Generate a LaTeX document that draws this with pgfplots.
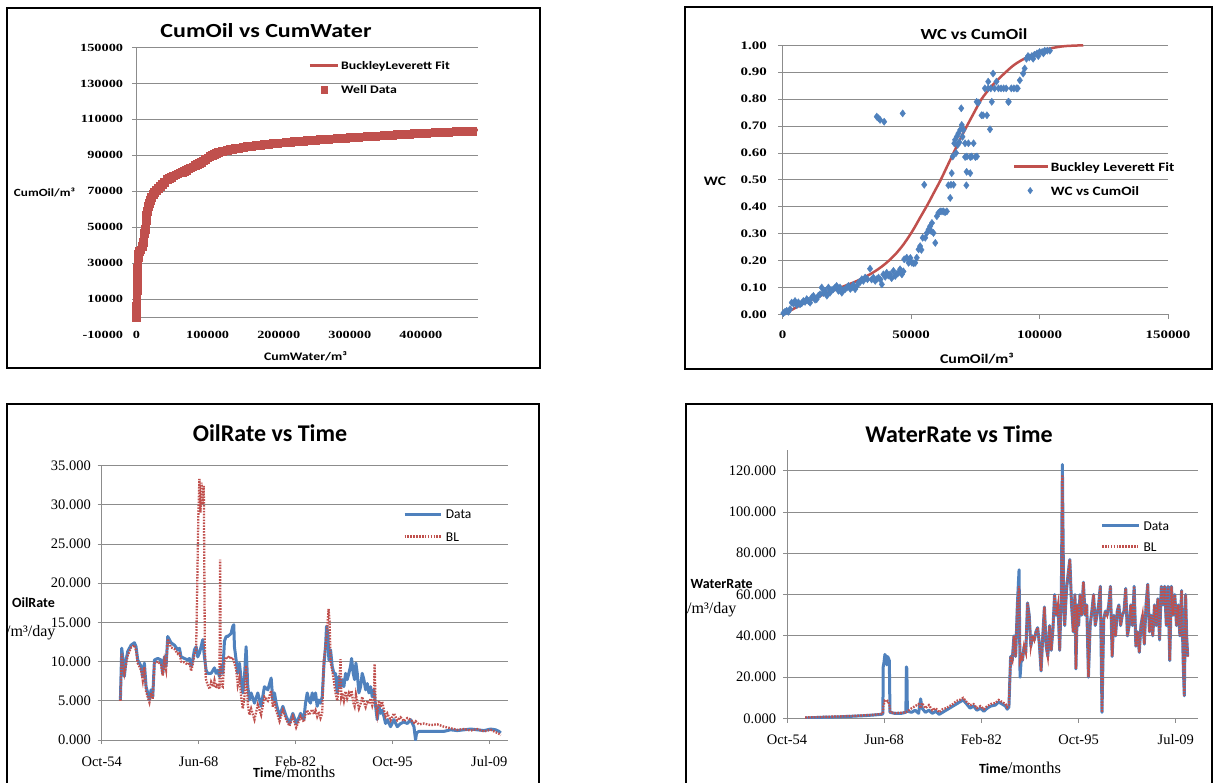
\documentclass[border=0pt]{standalone}
\usepackage{pgfplots}
\pgfplotsset{compat=1.18}
\usepackage{pgfplotstable}
\usepackage{fontspec}
\setmainfont{Liberation Serif}
\newfontfamily\fcal{Carlito}
\newfontfamily\fcalw{Carlito}[FakeStretch=1.2]
\newfontfamily\fserw{Liberation Serif}[FakeStretch=1.3]
\definecolor{xred}{HTML}{C0504D}
\definecolor{xblue}{HTML}{4F81BD}
\definecolor{xgrid}{HTML}{8C8C8C}

% ---------------- Panel 1: CumOil vs CumWater ----------------
\pgfplotstableread{
x y
0 0
0 3000
0 6000
200 9000
400 12000
600 15000
800 18000
1000 21000
1200 24000
1400 27000
1600 30000
1900 33000
2500 35000
4000 36500
6000 37500
8000 39300
9000 41500
10000 44000
11000 46500
12000 49000
12800 51500
13500 54000
14200 56500
15000 59000
16000 61500
17300 63500
19000 65200
21000 66800
23000 68300
25000 69600
27500 70600
30000 71700
33000 72700
36000 73900
39000 75100
43000 76600
46000 77300
49000 78000
52000 78600
55000 79200
58000 79800
61000 80300
64000 80800
67000 81300
70000 81900
73000 82500
76000 83100
79000 83700
82000 84300
85000 84900
88000 85500
91000 86200
94000 87000
97000 87800
100000 88700
103000 89400
106000 90000
109000 90600
112000 91100
115000 91600
118000 92000
121000 92300
124000 92600
127000 92900
131000 93200
135000 93500
139000 93800
143000 94000
146000 94200
150000 94500
156000 94850
162000 95200
168000 95500
174000 95800
180000 96100
186000 96350
192000 96600
198000 96800
204000 97050
210000 97250
216000 97450
222000 97650
228000 97850
234000 98050
240000 98250
246000 98400
252000 98600
258000 98750
264000 98900
270000 99100
276000 99250
282000 99400
288000 99550
294000 99700
300000 99900
306000 100050
312000 100200
318000 100350
324000 100500
330000 100650
336000 100800
342000 100950
348000 101100
354000 101250
360000 101400
366000 101550
372000 101700
378000 101850
384000 101950
390000 102100
396000 102200
402000 102350
408000 102500
414000 102600
420000 102750
426000 102850
432000 102950
438000 103050
444000 103150
450000 103250
456000 103350
462000 103450
468000 103550
472000 103600
}\welldata

\pgfplotstableread{
x y
0 0
0 17000
1900 33000
8000 39300
12600 50500
17300 63500
24300 69200
33700 72900
43000 76600
58000 79800
73000 82500
89800 85900
100000 88700
113200 91300
141200 93900
200000 96900
300000 99900
400000 102300
480000 104100
}\blfit

% ---------------- Panel 2: WC vs CumOil ----------------
\pgfplotstableread{
x y
260 0.005
900 0.01
1560 0.014
2200 0.01
2860 0.02
3500 0.044
4200 0.04
4800 0.05
5500 0.035
6100 0.045
6750 0.038
7400 0.042
8050 0.05
8700 0.047
9350 0.057
10000 0.05
10650 0.044
11300 0.063
11950 0.069
12600 0.055
13250 0.057
13900 0.07
14550 0.075
15200 0.1
15800 0.08
16500 0.088
17200 0.07
17800 0.1
18400 0.081
19000 0.09
19700 0.094
20400 0.1
21000 0.106
21700 0.088
22300 0.1
23000 0.081
23600 0.09
24300 0.094
25000 0.1
25600 0.106
26300 0.095
26900 0.1
27500 0.11
28200 0.094
28800 0.105
29500 0.118
30100 0.12
30800 0.131
31400 0.125
32100 0.137
33000 0.131
34000 0.17
34600 0.13
35300 0.137
36000 0.125
36600 0.131
37300 0.137
38000 0.13
38600 0.112
39200 0.149
39900 0.14
40500 0.155
41100 0.145
41800 0.149
42400 0.135
43100 0.162
43800 0.143
44400 0.15
45100 0.155
45700 0.168
46400 0.149
47000 0.16
47300 0.205
48300 0.211
49000 0.192
49700 0.21
50300 0.192
51000 0.19
51600 0.192
52200 0.211
52900 0.242
53500 0.254
54000 0.24
54500 0.285
55100 0.482
55500 0.285
56100 0.303
56800 0.316
57400 0.328
57800 0.31
58100 0.34
58700 0.303
59400 0.266
60000 0.365
60600 0.377
61300 0.383
62000 0.383
62600 0.383
63200 0.38
63900 0.383
64500 0.48
65200 0.433
65500 0.482
65800 0.525
66200 0.587
66500 0.482
66800 0.636
67100 0.649
67500 0.6
67800 0.661
68100 0.63
68400 0.673
68800 0.64
69100 0.686
69500 0.766
69700 0.704
70000 0.66
70400 0.686
71000 0.636
71000 0.585
71500 0.48
71600 0.53
71700 0.587
72300 0.636
73000 0.525
73000 0.585
73600 0.587
74300 0.636
75000 0.585
75500 0.79
75600 0.587
76200 0.787
77400 0.74
78000 0.74
78700 0.84
79500 0.74
80000 0.84
80000 0.865
80700 0.688
81000 0.84
81400 0.79
81900 0.895
82500 0.84
83200 0.865
84000 0.84
85000 0.84
86000 0.84
87000 0.84
87800 0.79
88000 0.79
89000 0.84
90000 0.84
91000 0.84
91500 0.84
92300 0.87
93600 0.895
94200 0.914
94900 0.95
95500 0.96
96000 0.955
97000 0.96
97500 0.95
98000 0.965
99000 0.97
99500 0.96
100000 0.975
101000 0.975
101500 0.97
102000 0.98
103000 0.98
104000 0.98
36600 0.735
37300 0.729
37900 0.723
39500 0.716
46700 0.747
}\wcdata

\pgfplotstableread{
x y
0 0
5000 0.025
10000 0.05
16000 0.075
22500 0.10
29000 0.125
35000 0.155
39500 0.185
43500 0.22
47000 0.26
50500 0.31
53500 0.36
56500 0.41
59000 0.455
61500 0.50
64000 0.55
66500 0.60
69000 0.65
71700 0.70
74500 0.75
77400 0.80
81500 0.85
86800 0.90
90500 0.93
95000 0.955
100000 0.977
105000 0.99
110000 0.997
117000 1.0
}\wcfit

% ---------------- Panel 3: OilRate vs Time ----------------
\pgfplotstableread{
t v
1957.39 5.1
1957.58 11.7
1957.72 10.6
1957.95 8.1
1958.19 10.2
1958.43 11.3
1958.90 12.1
1959.37 12.4
1959.60 11.9
1959.84 10.2
1960.31 9.4
1960.55 8.1
1960.78 9.8
1961.02 6.8
1961.25 6.0
1961.49 5.1
1961.72 6.4
1961.96 5.5
1962.20 10.2
1962.67 10.4
1963.14 10.2
1963.37 8.5
1963.61 10.6
1963.84 9.4
1964.08 13.2
1964.55 12.4
1965.02 12.1
1965.49 11.5
1965.73 11.7
1965.96 10.6
1966.44 10.4
1966.91 10.2
1967.14 10.4
1967.38 9.4
1967.61 10.2
1967.85 11.5
1968.09 11.9
1968.32 10.6
1968.56 11.1
1968.79 11.9
1969.03 12.8
1969.26 10.6
1969.50 8.9
1969.73 8.5
1970.21 8.5
1970.68 9.2
1970.91 8.5
1971.15 8.9
1971.38 8.1
1971.62 9.4
1971.85 8.5
1972.09 12.6
1972.33 13.2
1972.56 13.2
1972.80 13.4
1973.03 13.6
1973.27 14.5
1973.41 14.7
1973.50 11.9
1973.74 10.2
1973.97 8.5
1974.21 9.8
1974.45 7.7
1974.68 6.0
1974.92 8.1
1975.15 11.9
1975.39 6.8
1975.62 5.1
1975.86 6.0
1976.33 4.7
1976.80 6.0
1977.27 4.3
1977.74 6.8
1978.22 6.4
1978.69 7.9
1978.92 5.1
1979.16 6.0
1979.39 4.7
1979.87 3.0
1980.34 4.3
1980.81 3.0
1981.28 2.1
1981.75 3.4
1982.22 2.1
1982.69 3.0
1982.84 3.4
1983.31 2.6
1983.54 4.7
1983.78 6.0
1984.01 5.1
1984.25 4.7
1984.49 6.0
1984.72 5.1
1984.96 6.0
1985.19 4.3
1985.43 5.1
1985.66 4.7
1985.90 5.5
1986.13 9.4
1986.37 11.9
1986.51 14.5
1986.70 13.6
1986.84 10.2
1987.08 11.5
1987.31 9.4
1987.55 8.5
1987.78 8.5
1988.02 6.0
1988.26 8.1
1988.49 6.8
1988.73 7.7
1988.96 6.8
1989.20 8.5
1989.43 7.7
1989.67 8.5
1989.90 9.4
1990.05 10.4
1990.28 8.5
1990.47 7.7
1990.66 9.8
1990.85 8.5
1991.08 6.0
1991.32 6.8
1991.55 8.5
1991.79 7.7
1992.03 6.4
1992.26 7.2
1992.50 6.0
1992.73 6.8
1992.97 5.5
1993.20 6.4
1993.44 4.3
1993.67 2.6
1993.91 4.3
1994.15 3.4
1994.38 3.8
1994.62 3.0
1994.85 2.1
1995.09 2.6
1995.56 1.7
1996.03 2.6
1996.50 1.7
1996.97 2.1
1997.44 2.3
1997.92 2.1
1998.39 2.6
1998.86 1.7
1999.09 0.0
1999.23 0.9
1999.56 1.1
2000.27 1.1
2001.21 1.1
2002.16 1.1
2003.10 1.1
2004.04 1.3
2004.98 1.2
2005.93 1.3
2006.87 1.4
2007.81 1.3
2008.75 1.2
2009.70 1.4
2010.40 1.3
2010.87 1.1
2011.11 0.9
}\oildata

\pgfplotstableread{
t v
1957.39 5.0
1957.58 11.0
1957.72 9.8
1957.95 8.5
1958.19 9.6
1958.43 10.8
1958.90 11.8
1959.37 12.1
1959.60 11.4
1959.84 9.8
1960.31 8.9
1960.55 7.6
1960.78 9.3
1961.02 6.2
1961.25 5.5
1961.49 4.8
1961.72 6.0
1961.96 5.2
1962.20 9.8
1962.67 10.0
1963.14 9.6
1963.37 8.2
1963.61 10.1
1963.84 9.0
1964.08 12.9
1964.55 11.8
1965.02 11.6
1965.49 11.0
1965.73 11.2
1965.96 10.0
1966.44 9.9
1966.91 9.6
1967.14 9.9
1967.38 8.8
1967.61 9.6
1967.85 10.9
1968.09 11.5
1968.25 20.0
1968.40 28.5
1968.55 33.3
1968.70 29.0
1968.85 32.8
1969.00 30.0
1969.17 32.4
1969.32 12.0
1969.45 7.8
1969.73 7.0
1970.00 6.5
1970.21 7.4
1970.50 6.8
1970.68 7.6
1970.91 6.6
1971.15 7.2
1971.38 6.5
1971.48 23.0
1971.58 7.0
1971.85 6.8
1972.09 10.2
1972.33 10.6
1972.56 10.4
1972.80 10.7
1973.03 10.3
1973.27 10.5
1973.50 9.8
1973.74 9.0
1973.97 7.0
1974.21 8.0
1974.45 5.5
1974.68 4.0
1974.92 5.5
1975.15 9.5
1975.39 4.5
1975.62 3.2
1975.86 4.0
1976.33 2.6
1976.80 4.5
1977.27 3.2
1977.74 5.5
1978.22 5.0
1978.69 6.3
1978.92 4.2
1979.16 5.0
1979.39 3.8
1979.87 2.4
1980.34 3.8
1980.81 2.6
1981.28 1.8
1981.75 3.0
1982.22 1.6
1982.69 2.6
1982.84 3.0
1983.31 2.3
1983.54 3.3
1983.78 3.8
1984.01 3.2
1984.25 3.5
1984.49 3.9
1984.72 3.3
1984.96 3.8
1985.19 3.0
1985.43 3.6
1985.66 2.8
1985.90 3.4
1986.13 10.2
1986.37 11.9
1986.55 13.5
1986.80 16.7
1986.95 15.0
1987.08 10.0
1987.31 8.9
1987.55 7.5
1987.78 6.0
1988.02 5.0
1988.26 6.5
1988.49 10.3
1988.60 5.5
1988.73 6.0
1988.96 5.0
1989.20 6.2
1989.43 5.3
1989.67 6.0
1989.90 5.5
1990.05 6.3
1990.28 4.8
1990.47 4.3
1990.66 5.8
1990.85 4.9
1991.08 4.0
1991.32 4.6
1991.55 5.5
1991.79 4.8
1992.03 4.2
1992.26 5.0
1992.50 4.6
1992.73 5.3
1992.97 4.4
1993.20 5.2
1993.30 9.7
1993.44 4.8
1993.67 3.3
1993.91 5.0
1994.15 4.2
1994.38 4.9
1994.62 3.8
1994.85 3.0
1995.09 3.4
1995.56 2.5
1996.03 3.4
1996.50 2.5
1996.97 2.9
1997.44 2.4
1997.92 2.8
1998.39 2.6
1998.86 2.2
1999.09 2.4
1999.56 2.0
2000.27 2.1
2001.21 1.9
2002.16 2.0
2003.10 1.7
2004.04 1.5
2004.98 1.3
2005.93 1.4
2006.87 1.2
2007.81 1.4
2008.75 1.1
2009.70 1.3
2010.40 1.0
2010.87 0.8
2011.11 0.6
}\oilbl

% ---------------- Panel 4: WaterRate vs Time ----------------
\pgfplotstableread{
t v
1957.31 0.3
1958.50 0.4
1959.73 0.6
1961.00 0.7
1962.15 0.8
1963.40 1.0
1964.57 1.2
1965.80 1.4
1966.99 1.7
1967.96 2.0
1968.25 2.2
1968.30 25
1968.40 27
1968.54 31
1968.68 30
1968.80 26
1968.92 30
1969.05 29
1969.16 28
1969.25 3.0
1969.89 2.5
1970.86 2.5
1971.49 3.0
1971.56 25
1971.63 24
1971.70 3.5
1972.31 3.0
1972.79 4.0
1973.28 2.5
1973.57 9.5
1973.76 5.0
1974.24 3.0
1974.73 4.0
1975.21 2.5
1975.69 3.5
1976.18 2.0
1976.66 3.0
1977.15 4.0
1977.63 5.0
1978.11 6.0
1978.60 7.0
1979.08 8.0
1979.56 9.0
1980.05 7.0
1980.53 5.0
1981.02 6.0
1981.50 4.0
1981.98 5.0
1982.47 3.5
1982.95 5.0
1983.43 6.0
1984.09 6.5
1984.57 8.0
1985.04 7.0
1985.52 6.0
1985.76 4.5
1986.00 5.5
1986.24 30
1986.47 28
1986.71 40
1986.95 30
1987.19 55
1987.43 72
1987.57 20
1987.76 30
1987.90 28
1988.14 35
1988.38 32
1988.62 56
1988.86 50
1989.09 35
1989.33 40
1989.57 38
1989.81 42
1990.05 44
1990.29 36
1990.53 23
1990.77 40
1991.00 54
1991.24 35
1991.48 30
1991.72 45
1991.96 33
1992.20 43
1992.43 60
1992.67 50
1992.91 55
1993.15 33
1993.39 62
1993.53 123
1993.72 55
1993.86 45
1994.10 62
1994.34 70
1994.58 77
1994.82 55
1995.06 42
1995.30 60
1995.44 24
1995.63 55
1995.82 45
1996.01 60
1996.25 50
1996.49 66
1996.73 50
1996.96 55
1997.20 20
1997.44 45
1997.68 52
1997.92 60
1998.16 45
1998.40 50
1998.63 55
1998.87 64
1999.11 3
1999.35 48
1999.59 52
1999.83 50
2000.06 55
2000.30 64
2000.54 30
2000.78 50
2001.02 40
2001.26 52
2001.49 55
2001.73 45
2001.97 50
2002.21 52
2002.45 63
2002.69 40
2002.93 45
2003.16 55
2003.40 45
2003.64 64
2003.88 35
2004.12 42
2004.36 32
2004.59 45
2004.83 50
2005.07 36
2005.31 55
2005.55 65
2005.79 42
2006.03 50
2006.26 40
2006.50 55
2006.74 45
2006.98 58
2007.22 38
2007.46 64
2007.69 55
2007.93 64
2008.17 45
2008.41 64
2008.65 28
2008.89 64
2009.12 50
2009.36 60
2009.60 45
2009.84 55
2010.08 40
2010.32 62
2010.56 25
2010.70 11
2010.89 60
2011.03 40
2011.18 30
}\watdata

\pgfplotstableread{
t v
1957.31 0.5
1958.50 0.6
1959.73 0.8
1961.00 0.9
1962.15 1.0
1963.40 1.2
1964.57 1.3
1965.80 1.6
1966.99 1.8
1967.96 2.2
1968.25 2.4
1968.32 6
1968.50 8.5
1968.70 8
1968.90 8.5
1969.16 7
1969.30 3
1969.89 2.6
1970.86 2.8
1971.49 3.0
1971.63 3.3
1972.31 5
1972.79 6
1973.28 7
1973.57 5
1973.76 7.5
1974.24 5
1974.73 6.5
1975.21 4
1975.69 5
1976.18 3
1976.66 4.5
1977.15 5
1977.63 6
1978.11 7
1978.60 8.5
1979.08 9
1979.56 10
1980.05 8
1980.53 6.5
1981.02 7
1981.50 5
1981.98 6
1982.47 4.5
1982.95 6
1983.43 7
1984.09 7.5
1984.57 9
1985.04 8
1985.52 7
1985.76 5.5
1986.00 6.5
1986.24 30
1986.47 28
1986.71 40
1986.95 30
1987.19 55
1987.43 64
1987.57 28
1987.76 30
1987.90 28
1988.14 35
1988.38 32
1988.62 56
1988.86 50
1989.09 35
1989.33 40
1989.57 38
1989.81 42
1990.05 44
1990.29 36
1990.53 23
1990.77 40
1991.00 54
1991.24 35
1991.48 30
1991.72 45
1991.96 33
1992.20 43
1992.43 60
1992.67 50
1992.91 55
1993.15 33
1993.39 62
1993.53 118
1993.72 55
1993.86 45
1994.10 62
1994.34 70
1994.58 77
1994.82 55
1995.06 42
1995.30 60
1995.44 24
1995.63 55
1995.82 45
1996.01 60
1996.25 50
1996.49 66
1996.73 50
1996.96 55
1997.20 20
1997.44 45
1997.68 52
1997.92 60
1998.16 45
1998.40 50
1998.63 55
1998.87 64
1999.11 3
1999.35 48
1999.59 52
1999.83 50
2000.06 55
2000.30 64
2000.54 30
2000.78 50
2001.02 40
2001.26 52
2001.49 55
2001.73 45
2001.97 50
2002.21 52
2002.45 63
2002.69 40
2002.93 45
2003.16 55
2003.40 45
2003.64 64
2003.88 35
2004.12 42
2004.36 32
2004.59 45
2004.83 50
2005.07 36
2005.31 55
2005.55 65
2005.79 42
2006.03 50
2006.26 40
2006.50 55
2006.74 45
2006.98 58
2007.22 38
2007.46 64
2007.69 55
2007.93 64
2008.17 45
2008.41 64
2008.65 28
2008.89 64
2009.12 50
2009.36 60
2009.60 45
2009.84 55
2010.08 40
2010.32 62
2010.56 25
2010.70 11
2010.89 60
2011.03 40
2011.18 30
}\watbl

\pgfplotsset{
  excelgrid/.style={grid style={xgrid,line width=0.8pt}},
}

\begin{document}
\begin{tikzpicture}[x=1pt,y=1pt]
\useasboundingbox (0,0) rectangle (1214,782);

% ================= Panel 1 =================
\begin{axis}[
  at={(136.5pt,447pt)}, anchor=south west, scale only axis,
  width=341.3pt, height=287.5pt,
  xmin=0, xmax=480000, ymin=-10000, ymax=150000,
  scaled x ticks=false, scaled y ticks=false,
  clip=false,
  axis x line*=bottom, axis y line*=left,
  axis line style={draw=none},
  tick align=outside, major tick length=4.5pt,
  xtick={0,100000,200000,300000,400000},
  xticklabels={0,100000,200000,300000,400000},
  xtick style={draw=none},
  ytick={0,10000,30000,50000,70000,90000,110000,130000,150000},
  yticklabels={,10000,30000,50000,70000,90000,110000,130000,150000},
  ytick style={xgrid,line width=0.8pt},
  extra y ticks={-10000}, extra y tick labels={-10000},
  extra y tick style={grid=none, tick style={draw=none}},
  ymajorgrids, excelgrid,
  ticklabel style={font=\fserw\bfseries\fontsize{11}{13}\selectfont, inner sep=0pt},
  xticklabel style={anchor=center, yshift=4.5pt},
  yticklabel style={anchor=east, xshift=-8.7pt},
  legend style={draw=none, fill=none, at={(0.5034,0.9517)}, anchor=north west,
    inner sep=0pt, row sep=16.3pt, font=\fcalw\bfseries\fontsize{11.5}{13}\selectfont,
    nodes={inner sep=0pt, text height=8pt, text depth=0pt},
    /tikz/every odd column/.append style={column sep=1.7pt}},
  legend cell align=left,
]
\draw[xgrid,line width=0.8pt] (axis cs:0,0) -- (axis cs:0,150000);
\addplot[xred, line width=2.5pt,
  legend image code/.code={\draw (0pt,0pt) -- (28.5pt,0pt);}] table[x=x,y=y] {\blfit};
\addlegendentry{BuckleyLeverett Fit}
\addplot[only marks, mark=square*, mark size=3.9pt, mark options={draw=xred, fill=xred},
  legend image code/.code={\draw[mark repeat=2,mark phase=2,mark size=3.3pt] plot coordinates {(0pt,0pt) (14.25pt,0pt) (28.5pt,0pt)};}] table[x=x,y=y] {\welldata};
\addlegendentry{Well Data}
\end{axis}

% ================= Panel 2 =================
\begin{axis}[
  at={(782.7pt,467.5pt)}, anchor=south west, scale only axis,
  width=385.3pt, height=269.2pt,
  xmin=0, xmax=150000, ymin=0, ymax=1,
  scaled x ticks=false, scaled y ticks=false,
  clip=false,
  axis x line*=bottom, axis y line*=left,
  axis line style={xgrid,line width=0.8pt},
  tick style={xgrid,line width=0.8pt},
  tick align=outside, major tick length=4.5pt,
  xtick={0,50000,100000,150000}, xticklabels={0,50000,100000,150000},
  ytick={0,0.1,0.2,0.3,0.4,0.5,0.6,0.7,0.8,0.9,1.0},
  yticklabels={0.00,0.10,0.20,0.30,0.40,0.50,0.60,0.70,0.80,0.90,1.00},
  ymajorgrids, excelgrid,
  ticklabel style={font=\fserw\bfseries\fontsize{11.5}{13}\selectfont, inner sep=0pt},
  xticklabel style={anchor=center, yshift=-16pt},
  yticklabel style={anchor=east, xshift=-11.2pt},
  legend style={draw=none, fill=none, at={(0.597,0.567)}, anchor=north west,
    inner sep=0pt, row sep=15pt, font=\fcalw\bfseries\fontsize{12.7}{14}\selectfont,
    nodes={inner sep=0pt, text height=9pt, text depth=0pt},
    /tikz/every odd column/.append style={column sep=1.5pt}},
  legend cell align=left,
  reverse legend,
]
\addplot[only marks, mark=diamond*, mark size=3.6pt, mark options={draw=xblue, fill=xblue},
  legend image code/.code={\draw[mark repeat=2,mark phase=2,mark size=3.2pt] plot coordinates {(0pt,0pt) (16pt,0pt) (32pt,0pt)};}] table[x=x,y=y] {\wcdata};
\addlegendentry{WC vs CumOil}
\addplot[xred, line width=2.5pt, smooth,
  legend image code/.code={\draw (0pt,0pt) -- (34pt,0pt);}] table[x=x,y=y] {\wcfit};
\addlegendentry{Buckley Leverett Fit}
\end{axis}

% ================= Panel 3 =================
\begin{axis}[
  at={(101.7pt,42pt)}, anchor=south west, scale only axis,
  width=405.9pt, height=274.5pt,
  xmin=1954.75, xmax=2012.09, ymin=0, ymax=35,
  scaled x ticks=false, scaled y ticks=false,
  axis x line*=bottom, axis y line*=left,
  axis line style={xgrid,line width=0.8pt},
  tick style={xgrid,line width=0.8pt},
  tick align=outside, major tick length=4pt,
  xtick={1954.75,1968.439,1982.128,1995.817,2009.506},
  xticklabels={Oct-54,Jun-68,Feb-82,Oct-95,Jul-09},
  ytick={0,5,10,15,20,25,30,35},
  yticklabels={0.000,5.000,10.000,15.000,20.000,25.000,30.000,35.000},
  ymajorgrids, excelgrid,
  ticklabel style={font=\fontsize{14.5}{16}\selectfont, inner sep=0pt},
  xticklabel style={anchor=center, yshift=-18pt},
  yticklabel style={anchor=east, xshift=-6.7pt},
  legend style={draw=none, fill=none, at={(0.7418,0.841)}, anchor=north west,
    inner sep=0pt, row sep=12.9pt, font=\fcal\fontsize{13.5}{15}\selectfont,
    nodes={inner sep=0pt, text height=9.5pt, text depth=0pt},
    /tikz/every odd column/.append style={column sep=3.5pt}},
  legend cell align=left,
]
\addplot[xblue, line width=3pt, line join=round,
  legend image code/.code={\draw (0pt,0pt) -- (36.4pt,0pt);}] table[x=t,y=v] {\oildata};
\addlegendentry{Data}
\addplot[xred, line width=2.3pt, dash pattern=on 1.6pt off 1.3pt,
  legend image code/.code={\draw (0pt,0pt) -- (36.4pt,0pt);}] table[x=t,y=v] {\oilbl};
\addlegendentry{BL}
\end{axis}

% ================= Panel 4 =================
\begin{axis}[
  at={(787pt,63.5pt)}, anchor=south west, scale only axis,
  width=410.7pt, height=268.5pt,
  xmin=1954.75, xmax=2012.59, ymin=0, ymax=130,
  scaled x ticks=false, scaled y ticks=false,
  axis x line*=bottom, axis y line*=left,
  axis line style={xgrid,line width=0.8pt},
  tick style={xgrid,line width=0.8pt},
  tick align=outside, major tick length=4pt,
  xtick={1954.75,1968.439,1982.128,1995.817,2009.506},
  xticklabels={Oct-54,Jun-68,Feb-82,Oct-95,Jul-09},
  ytick={0,20,40,60,80,100,120},
  yticklabels={0.000,20.000,40.000,60.000,80.000,100.000,120.000},
  ymajorgrids, excelgrid,
  ticklabel style={font=\fontsize{14.5}{16}\selectfont, inner sep=0pt},
  xticklabel style={anchor=center, yshift=-17.5pt},
  yticklabel style={anchor=east, xshift=-6.7pt},
  legend style={draw=none, fill=none, at={(0.763,0.736)}, anchor=north west,
    inner sep=0pt, row sep=11.2pt, font=\fcal\fontsize{13.5}{15}\selectfont,
    nodes={inner sep=0pt, text height=9.5pt, text depth=0pt},
    /tikz/every odd column/.append style={column sep=3.3pt}},
  legend cell align=left,
]
\addplot[xblue, line width=3pt, line join=round,
  legend image code/.code={\draw (0pt,0pt) -- (36.7pt,0pt);}] table[x=t,y=v] {\watdata};
\addlegendentry{Data}
\addplot[xred, line width=2.3pt, dash pattern=on 1.6pt off 1.3pt,
  legend image code/.code={\draw (0pt,0pt) -- (36.7pt,0pt);}] table[x=t,y=v] {\watbl};
\addlegendentry{BL}
\end{axis}

% ================= Titles and labels =================
\node[font=\fcalw\bfseries\fontsize{20}{24}\selectfont] at (266,751) {CumOil vs CumWater};
\node[font=\fcalw\bfseries\fontsize{11}{13}\selectfont] at (44.5,589.3) {CumOil/m³};
\node[font=\fcalw\bfseries\fontsize{11.5}{13}\selectfont] at (305.5,426) {CumWater/m³};

\node[font=\fcalw\bfseries\fontsize{15.4}{18}\selectfont] at (974,748) {WC vs CumOil};
\node[font=\fcalw\bfseries\fontsize{12.9}{15}\selectfont] at (715,600.3) {WC};
\node[font=\fcalw\bfseries\fontsize{13.3}{15}\selectfont] at (976.9,423.7) {CumOil/m³};

\node[font=\fcal\bfseries\fontsize{24}{28}\selectfont] at (270,349) {OilRate vs Time};
\node[font=\fcal\bfseries\fontsize{14}{16}\selectfont] at (33.5,179) {OilRate};
\node[font=\fontsize{16}{18}\selectfont, anchor=east, inner sep=0pt] at (55.6,149) {/m³/day};
\node[anchor=west, inner sep=0pt] at (253,10.3) {{\fcal\bfseries\fontsize{14}{16}\selectfont Time}{\fontsize{16.5}{18}\selectfont/months}};

\node[font=\fcal\bfseries\fontsize{24}{28}\selectfont] at (959,348) {WaterRate vs Time};
\node[font=\fcal\bfseries\fontsize{14}{16}\selectfont, anchor=west, inner sep=0pt] at (690.5,198) {WaterRate};
\node[font=\fontsize{16}{18}\selectfont, anchor=west, inner sep=0pt] at (687,172) {/m³/day};
\node[anchor=west, inner sep=0pt] at (978.8,14) {{\fcal\bfseries\fontsize{14}{16}\selectfont Time}{\fontsize{16.5}{18}\selectfont/months}};

% ================= Frames =================
\draw[line width=2.6pt] (7,774) rectangle (540,414);
\draw[line width=2.6pt] (685,775) rectangle (1212,413);
\draw[line width=2.6pt] (7,378) rectangle (539,-20);
\draw[line width=2.6pt] (686,378) rectangle (1212,-20);
\end{tikzpicture}
\end{document}
